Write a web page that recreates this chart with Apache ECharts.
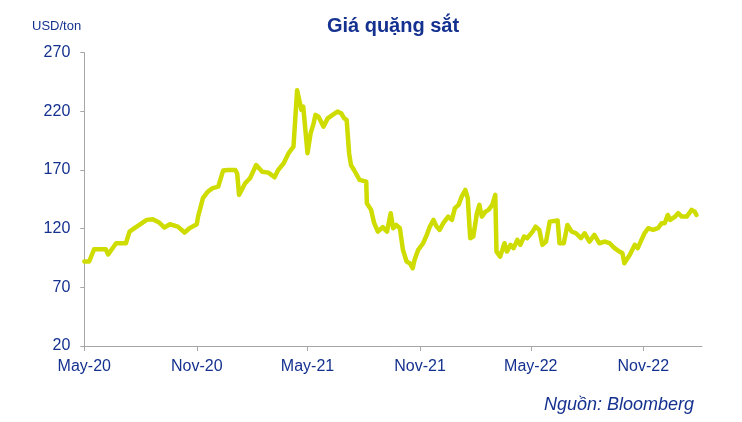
<!DOCTYPE html>
<html>
<head>
<meta charset="utf-8">
<script src="https://cdn.jsdelivr.net/npm/echarts@6/dist/echarts.min.js"></script>
<style>
html,body{margin:0;padding:0;background:#fff;}
#chart{width:742px;height:422px;}
</style>
</head>
<body>
<div id="chart"></div>
<script>
const dates = [
'2020-05-01','2020-05-09','2020-05-17','2020-06-05','2020-06-09','2020-06-22','2020-07-08','2020-07-14','2020-07-22','2020-07-30',
'2020-08-11','2020-08-21','2020-09-01','2020-09-09','2020-09-18','2020-10-01','2020-10-12','2020-10-20','2020-11-01','2020-11-03',
'2020-11-11','2020-11-19','2020-11-27','2020-12-06','2020-12-14','2020-12-22','2021-01-03','2021-01-06','2021-01-09','2021-01-19',
'2021-01-27','2021-02-06','2021-02-16','2021-02-26','2021-03-08','2021-03-14','2021-03-23','2021-03-31','2021-04-08','2021-04-14',
'2021-04-16','2021-04-21','2021-04-24','2021-05-01','2021-05-06','2021-05-11','2021-05-14','2021-05-19','2021-05-27','2021-06-03',
'2021-06-11','2021-06-19','2021-06-25','2021-06-30','2021-07-04','2021-07-08','2021-07-11','2021-07-16','2021-07-25','2021-08-05',
'2021-08-06','2021-08-13','2021-08-18','2021-08-24','2021-09-01','2021-09-08','2021-09-14','2021-09-18','2021-09-23','2021-09-29',
'2021-10-04','2021-10-10','2021-10-15','2021-10-20','2021-10-23','2021-10-29','2021-11-06','2021-11-12','2021-11-17','2021-11-23',
'2021-11-28','2021-12-03','2021-12-09','2021-12-17','2021-12-23','2021-12-28','2022-01-03','2022-01-08','2022-01-14','2022-01-18',
'2022-01-22','2022-01-27','2022-02-02','2022-02-06','2022-02-10','2022-02-16','2022-02-21','2022-02-27','2022-03-04','2022-03-06',
'2022-03-12','2022-03-19','2022-03-23','2022-03-29','2022-04-03','2022-04-09','2022-04-14','2022-04-20','2022-04-25','2022-05-04',
'2022-05-09','2022-05-15','2022-05-20','2022-05-26','2022-06-01','2022-06-14','2022-06-17','2022-06-24','2022-06-30','2022-07-03',
'2022-07-07','2022-07-14','2022-07-22','2022-07-28','2022-08-05','2022-08-13','2022-08-21','2022-08-30','2022-09-07','2022-09-15',
'2022-09-23','2022-09-28','2022-10-01','2022-10-10','2022-10-18','2022-10-23','2022-10-29','2022-11-03','2022-11-09','2022-11-17',
'2022-11-25','2022-12-01','2022-12-06','2022-12-11','2022-12-15','2022-12-23','2022-12-28','2023-01-03','2023-01-11','2023-01-19',
'2023-01-24','2023-01-27'
];
const prices = [
92,92,102.5,102.5,98,107.6,107.6,117.5,120.4,123.2,
127.5,128,125,121,123.8,121.8,116.7,120.4,123.8,130.3,
146,151.6,154.5,155.8,169.5,170,170,167,148.8,158.7,
163,174.3,168.6,167.8,163.8,170,175.8,184.3,190,238,
236.8,221.2,224,184.3,201.3,209.8,217,215.5,207,214,
217,219.8,218.4,214,212.7,184.3,174.3,170,161.6,160.1,
141.7,136,124.7,117.5,121.3,117.5,133.2,120.4,123.2,120.4,
102,92,90.6,86.3,93.4,102,107.6,114.7,121.8,127.5,
121.8,119,124.7,130.3,127.5,137.5,140.3,147.3,153,146,
111.9,113.3,133.2,140.3,130.3,134.5,136,140.3,148.8,100.5,
96.2,107.6,100.5,106.2,103.4,110.5,106.2,113.3,111.9,117.5,
121.8,119,106.2,109,126,126.9,107.6,107.6,123.2,124.7,
117.5,116.1,111.9,116.1,109,114.7,107.6,109,107.6,103.4,
100.5,99,90.6,97.7,106.2,103.4,110.5,116.1,120.4,119,
120.4,124.7,124.7,131.7,127.5,130.3,133.2,130.3,130.3,136,
134.5,131.7
];
const xTickDates = ['2020-05-01','2020-11-01','2021-05-01','2021-11-01','2022-05-01','2022-11-01'];
const xTickLabels = ['May-20','Nov-20','May-21','Nov-21','May-22','Nov-22'];
const yTicks = [20,70,120,170,220,270];

const toTs = s => { const p = s.split('-').map(Number); return Date.UTC(p[0], p[1]-1, p[2]); };
const tickTs = xTickDates.map(toTs);
const labelFor = v => { const i = tickTs.indexOf(v); return i >= 0 ? xTickLabels[i] : ''; };

const textColor = '#14318f';
const axisColor = '#a6a6a6';

const chart = echarts.init(document.getElementById('chart'), null, {renderer:'canvas'});
chart.setOption({
  animation:false,
  backgroundColor:'#ffffff',
  grid:{left:84.3, right:40, top:52.7, bottom:76, containLabel:false},
  xAxis:{
    type:'value',
    min: toTs('2020-05-01'),
    max: toTs('2023-02-05'),
    axisLine:{show:true, lineStyle:{color:axisColor, width:1}},
    axisTick:{show:true, length:5, lineStyle:{color:axisColor}, customValues: tickTs},
    axisLabel:{
      customValues: tickTs,
      color:textColor, fontSize:16, fontFamily:'Liberation Sans, Arial, sans-serif', margin:13,
      formatter: v => labelFor(v)
    },
    splitLine:{show:false}
  },
  yAxis:{
    type:'value',
    min: yTicks[0], max: yTicks[yTicks.length-1], interval:50,
    axisLine:{show:true, lineStyle:{color:axisColor, width:1}},
    axisTick:{show:true, inside:false, length:4, lineStyle:{color:axisColor}},
    axisLabel:{color:textColor, fontSize:16, fontFamily:'Liberation Sans, Arial, sans-serif', margin:14},
    splitLine:{show:false}
  },
  series:[{
    type:'line',
    data: dates.map((d,i)=>[toTs(d), prices[i]]),
    showSymbol:false,
    symbol:'none',
    lineStyle:{color:'#cedc00', width:4.5, join:'round', cap:'round'},
    z:3
  }],
  graphic:[
    {type:'text', x:393, y:26, style:{text:'Giá quặng sắt', fill:textColor, font:'bold 20px "Liberation Sans", Arial, sans-serif', textAlign:'center', textVerticalAlign:'middle'}},
    {type:'text', x:32, y:26, style:{text:'USD/ton', fill:textColor, font:'13px "Liberation Sans", Arial, sans-serif', textAlign:'left', textVerticalAlign:'middle'}},
    {type:'text', x:694, y:405, style:{text:'Nguồn: Bloomberg', fill:textColor, font:'italic 18px "Liberation Sans", Arial, sans-serif', textAlign:'right', textVerticalAlign:'middle'}}
  ]
});
</script>
</body>
</html>
